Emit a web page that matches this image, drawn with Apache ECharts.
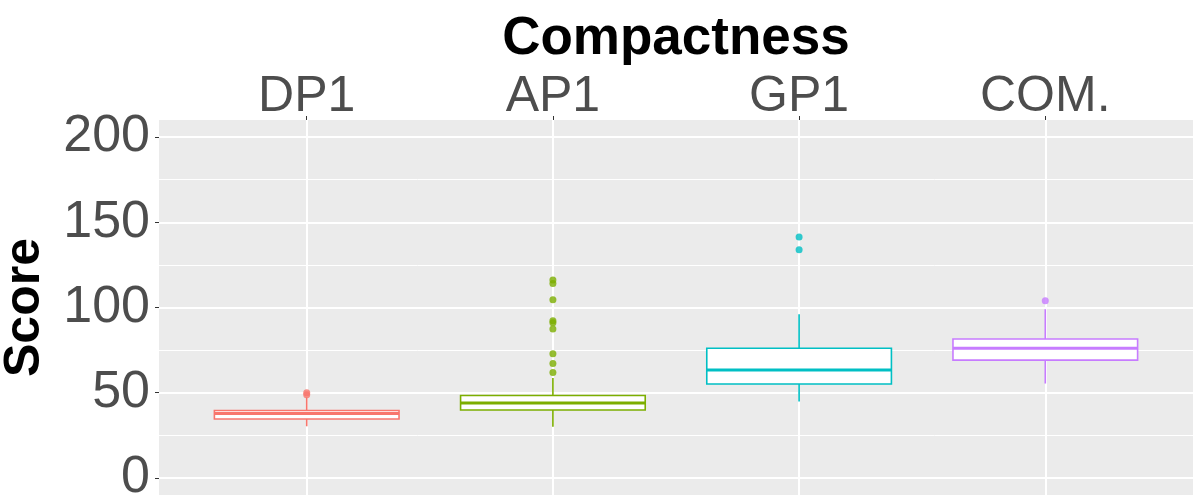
<!DOCTYPE html>
<html>
<head>
<meta charset="utf-8">
<script src="https://cdn.jsdelivr.net/npm/echarts@6/dist/echarts.min.js"></script>
<style>
  html, body { margin: 0; padding: 0; background: #fff; }
  #main { width: 1200px; height: 503px; }
</style>
</head>
<body>
<div id="main"></div>
<script>
// categories and tick labels
var categories = ['DP1', 'AP1', 'GP1', 'COM.'];
var yTicks = [0, 50, 100, 150, 200];
var yMinorTicks = [25, 75, 125, 175];

// box stats per category: [low whisker, Q1, median, Q3, high whisker]
var dpBox = [30.3, 34.6, 37.8, 39.6, 47.3];
var apBox = [30.1, 39.9, 44.0, 48.4, 58.6];
var gpBox = [44.9, 55.1, 63.4, 76.1, 96.0];
var comBox = [55.4, 69.1, 76.1, 81.5, 99.0];

// outliers per category
var dpOut = [48.8, 50.0];
var apOut = [61.9, 67.1, 72.8, 87.4, 91.0, 92.3, 104.5, 114.1, 116.2];
var gpOut = [133.9, 141.3];
var comOut = [103.9];

var colors = ['#F8766D', '#7CAE00', '#00BFC4', '#C77CFF'];

var boxes = [dpBox, apBox, gpBox, comBox];
var outs = [dpOut, apOut, gpOut, comOut];

// x position + five numbers, one row per category
var boxData = boxes.map(function (b, i) {
    return [i + 1].concat(b);
});

var outData = [];
outs.forEach(function (arr, i) {
    arr.forEach(function (v) {
        outData.push({ value: [i + 1, v], itemStyle: { color: colors[i] } });
    });
});

var HALF = 0.375; // half of box width, in category units

function renderBox(params, api) {
    var x = api.value(0);
    var low = api.value(1), q1 = api.value(2), med = api.value(3), q3 = api.value(4), high = api.value(5);
    var col = colors[params.dataIndex];
    var pHigh = api.coord([x, high]);
    var pLow = api.coord([x, low]);
    var tl = api.coord([x - HALF, q3]);
    var br = api.coord([x + HALF, q1]);
    var mL = api.coord([x - HALF, med]);
    var mR = api.coord([x + HALF, med]);
    return {
        type: 'group',
        children: [{
            type: 'line',
            shape: { x1: pHigh[0], y1: pHigh[1], x2: pHigh[0], y2: tl[1] },
            style: { stroke: col, lineWidth: 1.6 }
        }, {
            type: 'line',
            shape: { x1: pLow[0], y1: pLow[1], x2: pLow[0], y2: br[1] },
            style: { stroke: col, lineWidth: 1.6 }
        }, {
            type: 'rect',
            shape: { x: tl[0], y: tl[1], width: br[0] - tl[0], height: br[1] - tl[1] },
            style: { fill: '#fff', stroke: col, lineWidth: 1.6 }
        }, {
            type: 'line',
            shape: { x1: mL[0], y1: mL[1], x2: mR[0], y2: mR[1] },
            style: { stroke: col, lineWidth: 3 }
        }]
    };
}

var FONT = 'Liberation Sans';
var myChart = echarts.init(document.getElementById('main'));

var option = {
    animation: false,
    backgroundColor: '#fff',
    grid: {
        left: 159, right: 7, top: 120, bottom: 8,
        outerBoundsMode: 'none',
        containLabel: false,
        show: true, backgroundColor: '#EBEBEB', borderWidth: 0
    },
    xAxis: {
        type: 'value',
        position: 'top',
        min: 0.4,
        max: 4.6,
        name: 'Compactness',
        nameLocation: 'middle',
        nameGap: 54,
        nameTextStyle: { fontFamily: FONT, fontWeight: 'bold', fontSize: 53, color: '#000' },
        axisLine: { show: false, onZero: false },
        axisTick: { show: true, length: 4, lineStyle: { color: '#333', width: 1 }, customValues: [1, 2, 3, 4] },
        axisLabel: {
            customValues: [1, 2, 3, 4],
            margin: -2,
            fontFamily: FONT, fontSize: 50, color: '#4D4D4D',
            formatter: function (v) { return categories[Math.round(v) - 1]; }
        },
        splitLine: { show: true, lineStyle: { color: '#fff', width: 2 } }
    },
    yAxis: [{
        type: 'value',
        min: -10,
        max: 210,
        name: 'Score',
        nameLocation: 'middle',
        nameGap: 109,
        nameTextStyle: { fontFamily: FONT, fontWeight: 'bold', fontSize: 50, color: '#000' },
        axisLine: { show: false, onZero: false },
        axisTick: { show: true, length: 4, lineStyle: { color: '#333', width: 1 }, customValues: yTicks },
        axisLabel: { customValues: yTicks, margin: 9, fontFamily: FONT, fontSize: 52, color: '#4D4D4D' },
        splitLine: { show: true, lineStyle: { color: '#fff', width: 2 } }
    }, {
        type: 'value',
        min: -10,
        max: 210,
        position: 'left',
        axisLine: { show: false, onZero: false },
        axisTick: { show: false, customValues: yMinorTicks },
        axisLabel: { show: false, customValues: yMinorTicks },
        splitLine: { show: true, lineStyle: { color: '#fff', width: 1 } }
    }],
    series: [{
        type: 'custom',
        data: boxData,
        encode: { x: 0, y: [1, 2, 3, 4, 5] },
        renderItem: renderBox,
        z: 3
    }, {
        type: 'scatter',
        symbolSize: 7,
        data: outData,
        z: 5
    }]
};

myChart.setOption(option);
</script>
</body>
</html>
